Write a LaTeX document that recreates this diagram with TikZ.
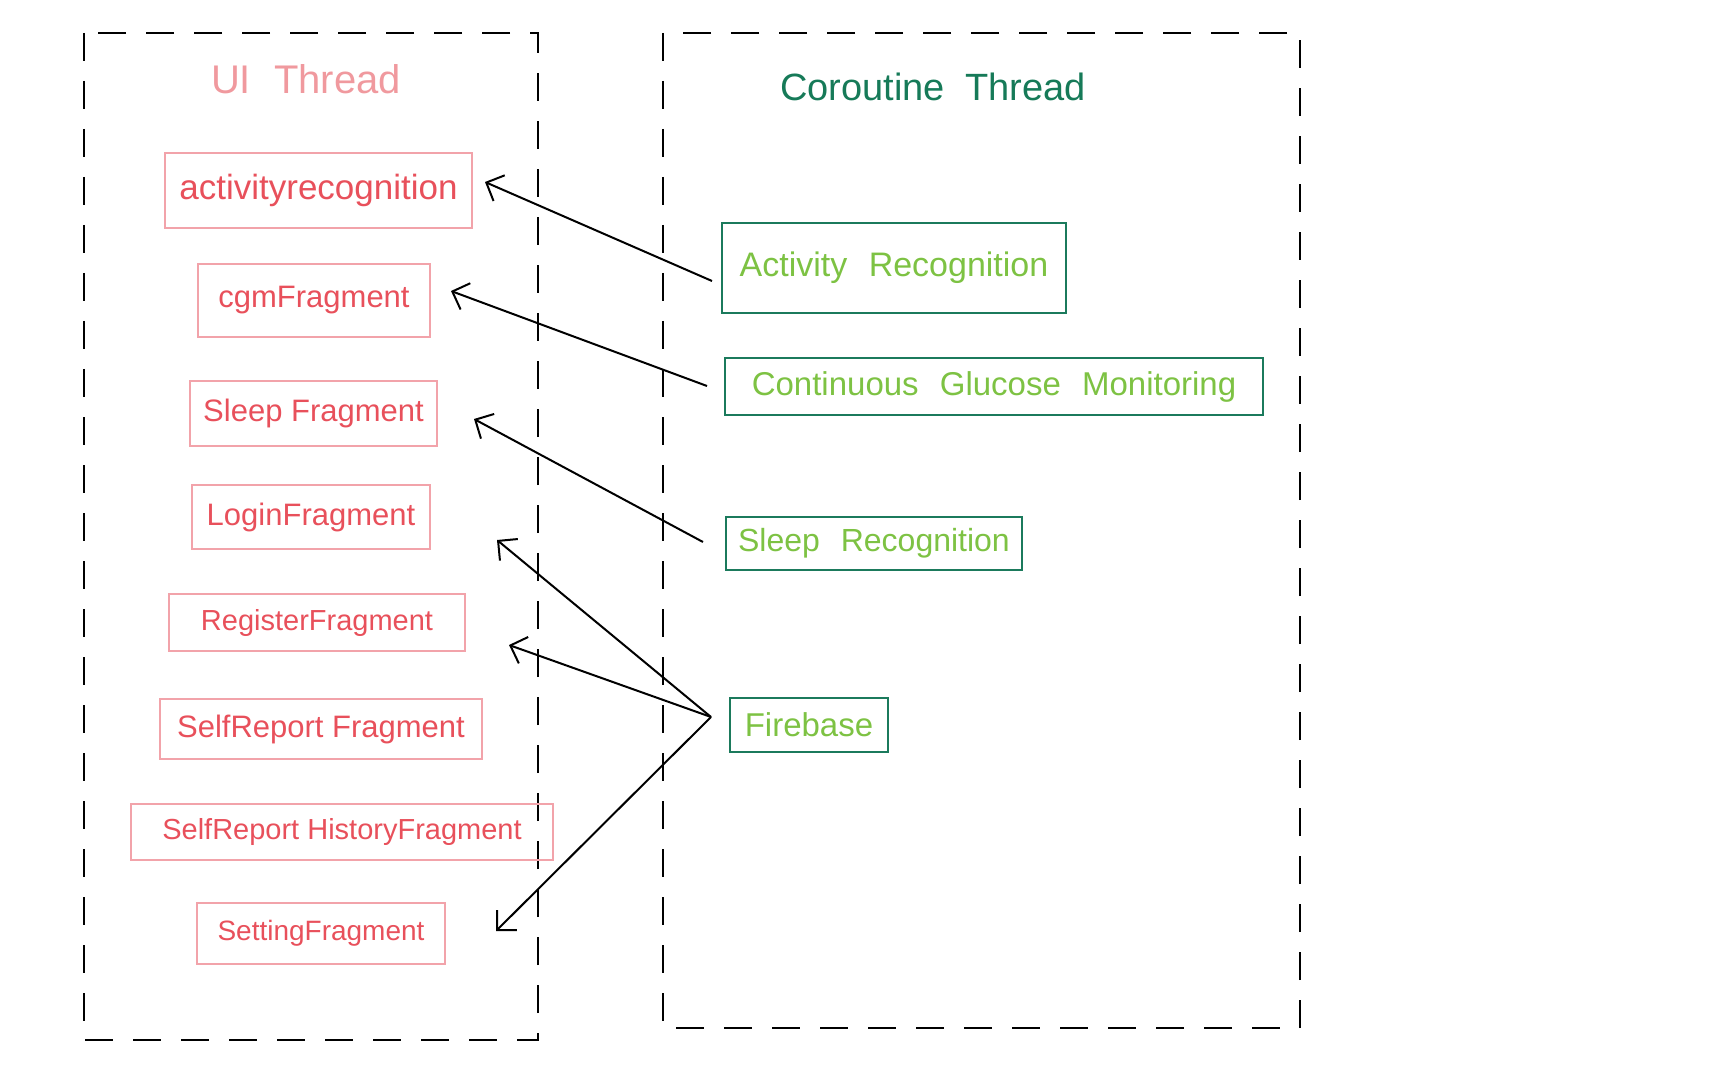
\documentclass[tikz,border=0pt]{standalone}
\usepackage{fontspec}
\setmainfont{Liberation Sans}
\usetikzlibrary{arrows.meta}
\definecolor{pinkline}{HTML}{F2A3AA}
\definecolor{redtext}{HTML}{E8505B}
\definecolor{pinktitle}{HTML}{F0999E}
\definecolor{greenline}{HTML}{1B7A5C}
\definecolor{greentext}{HTML}{7DC243}
\definecolor{greentitle}{HTML}{167A58}
\tikzset{
  redbox/.style={draw=pinkline, line width=1.2pt, text=redtext, inner sep=0pt, outer sep=0pt},
  greenbox/.style={draw=greenline, line width=1.2pt, text=greentext, inner sep=0pt, outer sep=0pt},
  lane/.style={draw=black, line width=1pt, dash pattern=on 14pt off 10pt},
  conn/.style={draw=black, line width=1pt, -{Straight Barb[length=7pt,width=14pt]}},
  fs/.style={font=\fontsize{#1}{#1}\selectfont}
}
\begin{document}
\begin{tikzpicture}[x=0.5pt,y=-0.5pt]
\useasboundingbox (0,0) rectangle (1728,1080);
% lanes
\draw[lane] (84,33) rectangle (538,1040);
\draw[lane] (663,33) rectangle (1300,1028);
\node[text=pinktitle, fs=20pt] (uit) at (306,79) {UI\hspace{6pt} Thread};
\node[text=greentitle, fs=19pt] (cot) at (933,87) {Coroutine\hspace{5pt} Thread};
% UI fragments
\node[redbox, minimum width=153.5pt, minimum height=37.5pt, fs=17.5pt] (f1) at (318.5,190.5) {activityrecognition};
\node[redbox, minimum width=116pt, minimum height=36.5pt, fs=15.5pt] (f2) at (314,300.5) {cgmFragment};
\node[redbox, minimum width=123.5pt, minimum height=32.5pt, fs=15.5pt] (f3) at (313.5,413.5) {Sleep Fragment};
\node[redbox, minimum width=119pt, minimum height=32pt, fs=15.5pt] (f4) at (311,517) {LoginFragment};
\node[redbox, minimum width=148pt, minimum height=28.5pt, fs=14.5pt] (f5) at (317,622.5) {RegisterFragment};
\node[redbox, minimum width=161pt, minimum height=30pt, fs=15.5pt] (f6) at (321,729) {SelfReport Fragment};
\node[redbox, minimum width=211pt, minimum height=28pt, fs=14.5pt] (f7) at (342,832) {SelfReport HistoryFragment};
\node[redbox, minimum width=124pt, minimum height=30.5pt, fs=14pt] (f8) at (321,933.5) {SettingFragment};
% Coroutine tasks
\node[greenbox, minimum width=172pt, minimum height=45pt, fs=17pt] (ga) at (894,268) {Activity\hspace{6pt} Recognition};
\node[greenbox, minimum width=269pt, minimum height=28.5pt, fs=16.5pt] (gb) at (994,386.5) {Continuous\hspace{6pt} Glucose\hspace{6pt} Monitoring};
\node[greenbox, minimum width=148pt, minimum height=26.5pt, fs=16pt] (gc) at (874,543.5) {Sleep\hspace{6pt} Recognition};
\node[greenbox, minimum width=79pt, minimum height=27pt, fs=16.5pt] (gd) at (809,725) {Firebase};
% connector ends
\coordinate (sa) at (712,281);
\coordinate (ta) at (485,182);
\coordinate (sb) at (707,386);
\coordinate (tb) at (451,291);
\coordinate (sc) at (703,542);
\coordinate (tc) at (474,419);
\coordinate (fb) at (711,717);
\coordinate (t4) at (497,540);
\coordinate (t5) at (509,645);
\coordinate (t8) at (496,931);
\draw[conn] (sa) -- (ta);
\draw[conn] (sb) -- (tb);
\draw[conn] (sc) -- (tc);
\draw[conn] (fb) -- (t4);
\draw[conn] (fb) -- (t5);
\draw[conn] (fb) -- (t8);
\end{tikzpicture}
\end{document}
